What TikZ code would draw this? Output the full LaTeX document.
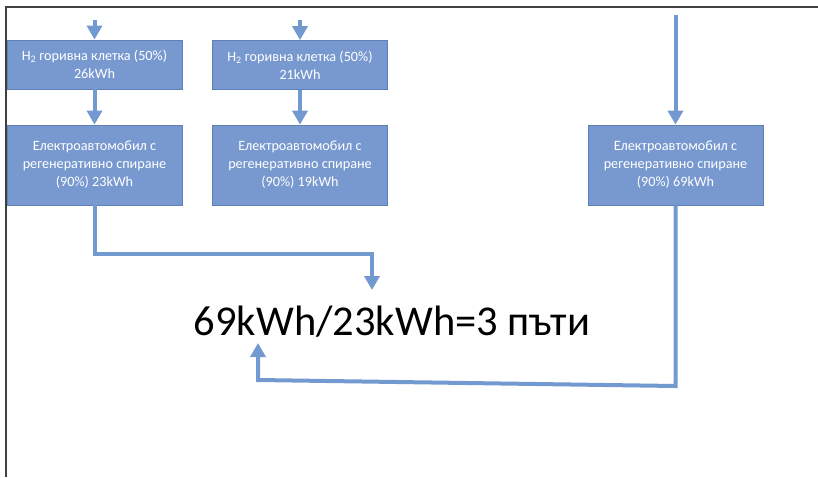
\documentclass[tikz,border=0pt]{standalone}
\usepackage{fontspec}
\setmainfont{Carlito}
\usetikzlibrary{arrows.meta}
\definecolor{boxfill}{HTML}{7899CF}
\definecolor{boxline}{HTML}{5E80B6}
\definecolor{conncol}{HTML}{7399D1}
\definecolor{framecol}{HTML}{404040}
\tikzset{
  box/.style={draw=boxline, line width=0.8pt, fill=boxfill, text=white, align=center,
    font=\fontsize{14.2}{18}\selectfont, inner sep=0pt},
  smallbox/.style={box, minimum width=175pt, minimum height=49pt},
  bigbox/.style={box, minimum width=175pt, minimum height=80pt},
  conn/.style={draw=conncol, line width=4pt, -{Triangle[width=15pt,length=14pt]}},
}
\begin{document}
\begin{tikzpicture}[x=1pt,y=-1pt]
\useasboundingbox (0,0) rectangle (818,477);
\draw[framecol, line width=1.3pt] (6,477) -- (6,7) -- (818,7);
\node[smallbox] (A1) at (94.5,64.5) {H\textsubscript{2} горивна клетка (50\%)\\26kWh};
\node[smallbox] (A2) at (300,65) {H\textsubscript{2} горивна клетка (50\%)\\21kWh};
\node[bigbox] (B1) at (94.5,165) {Електроавтомобил с\\регенеративно спиране\\(90\%) 23kWh};
\node[bigbox] (B2) at (300,165) {Електроавтомобил с\\регенеративно спиране\\(90\%) 19kWh};
\node[bigbox] (B3) at (675.5,165) {Електроавтомобил с\\регенеративно спиране\\(90\%) 69kWh};
\node[font=\fontsize{42.5}{48}\selectfont, inner sep=0pt] (T) at (392,322) {69kWh/23kWh=3 пъти};
\coordinate (s1) at (94.5,20);
\coordinate (s2) at (300,20);
\coordinate (s3) at (675.5,15);
\coordinate (c1) at (372,254);
\coordinate (e1) at (372,290);
\coordinate (c3) at (675.5,386);
\coordinate (c4) at (258,380);
\coordinate (e2) at (258,343);
\draw[conn] (s1) -- (A1.north);
\draw[conn] (s2) -- (A2.north);
\draw[conn] (s3) -- (B3.north);
\draw[conn] (A1.south) -- (B1.north);
\draw[conn] (A2.south) -- (B2.north);
\draw[conn] (B1.south) |- (c1) -- (e1);
\draw[conn] (B3.south) -- (c3) -- (c4) -- (e2);
\end{tikzpicture}
\end{document}
